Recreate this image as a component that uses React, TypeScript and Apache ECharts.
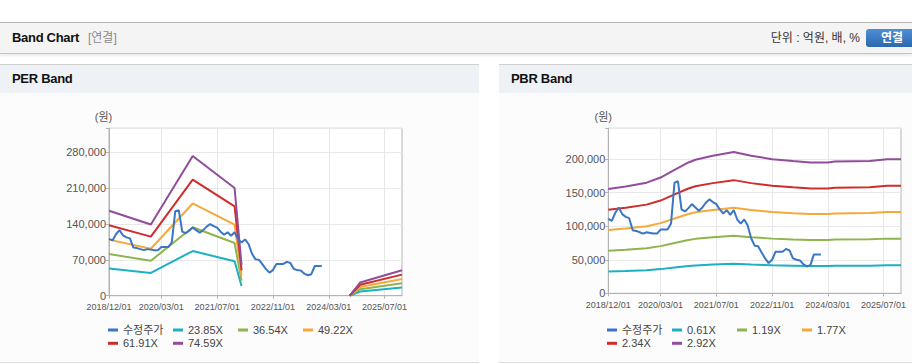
import React, { useEffect, useRef } from 'react';
import * as echarts from 'echarts';

const FONT = "'Liberation Sans', Arial, 'Noto Sans CJK KR', sans-serif";

// Monthly categories 2018/12/01 .. 2025/12/01
const months: string[] = (() => {
  const out: string[] = [];
  for (let i = 0; i < 85; i++) {
    const t = 2018 * 12 + 11 + i;
    const y = Math.floor(t / 12);
    const m = (t % 12) + 1;
    out.push(`${y}/${String(m).padStart(2, '0')}/01`);
  }
  return out;
})();

const xTickLabels = ['2018/12/01', '2020/03/01', '2021/07/01', '2022/11/01', '2024/03/01', '2025/07/01'];

// 수정주가 (monthly, from 2018/12)
const adjPrice = [
  111000, 108000, 120000, 128000, 118000, 114000, 112000, 94000, 93000, 91000,
  89000, 91000, 90000, 89000, 89000, 95000, 95000, 95000, 104000, 165000,
  167000, 125000, 122000, 127000, 133000, 128000, 123000, 128000, 135000, 140000,
  136000, 133000, 125000, 119000, 124000, 117000, 124000, 110000, 104000, 110000,
  101000, 82000, 71000, 70000, 61000, 52000, 45000, 50000, 62000, 62000,
  62000, 66000, 64000, 52000, 50000, 49000, 43000, 40000, 42000, 58000,
  58000, 58000,
];

// PER band: EPS points (null = gap)
const perEps: [string, number | null][] = [
  ['2018/12/01', 2225],
  ['2019/12/01', 1865],
  ['2020/12/01', 3660],
  ['2021/12/01', 2820],
  ['2022/02/01', 800],
  ['2023/06/01', null],
  ['2024/09/01', 0],
  ['2024/12/01', 345],
  ['2025/12/01', 665],
];
const perMultiples = [23.85, 36.54, 49.22, 61.91, 74.59];
const perBandNames = ['23.85X', '36.54X', '49.22X', '61.91X', '74.59X'];

// PBR band: BPS points
const pbrBps: [string, number | null][] = [
  ['2018/12/01', 53300],
  ['2019/05/01', 54500],
  ['2019/11/01', 56500],
  ['2020/03/01', 59100],
  ['2020/07/01', 63000],
  ['2020/11/01', 66800],
  ['2021/01/01', 68200],
  ['2021/06/01', 70200],
  ['2021/12/01', 72100],
  ['2022/05/01', 70200],
  ['2022/11/01', 68500],
  ['2023/05/01', 67500],
  ['2023/10/01', 66800],
  ['2024/03/01', 66800],
  ['2024/05/01', 67300],
  ['2025/03/01', 67600],
  ['2025/08/01', 68500],
  ['2025/12/01', 68500],
];
const pbrMultiples = [0.61, 1.19, 1.77, 2.34, 2.92];
const pbrBandNames = ['0.61X', '1.19X', '1.77X', '2.34X', '2.92X'];

const priceName = '수정주가';
const priceColor = '#3a76c4';
const bandColors = ['#1bb0c4', '#8fb44d', '#f4a93a', '#d02c2c', '#914c9b'];

const fmt = (v: number) => String(v).replace(/\B(?=(\d{3})+(?!\d))/g, ',');

function buildOption(
  base: [string, number | null][],
  multiples: number[],
  names: string[],
  yMax: number,
  yInterval: number,
  grid: { left: number; top: number; width: number; height: number },
  unitPos: [number, number],
) {
  const isTick = (_i: number, v: string) => xTickLabels.indexOf(v) >= 0;
  const legendCommon = {
    icon: 'rect',
    itemWidth: 10,
    itemHeight: 3,
    itemGap: 6,
    padding: 0,
    selectedMode: false,
    left: 108,
    textStyle: { fontSize: 11, color: '#444', width: 44, lineHeight: 13, fontFamily: FONT },
  };
  const bands = names.map((n, i) => ({
    type: 'line',
    name: n,
    data: base.map(([d, v]) => [d, v == null ? '-' : Math.round(v * multiples[i])]),
    symbol: 'none',
    showSymbol: false,
    connectNulls: false,
    lineStyle: { width: 2, color: bandColors[i] },
    itemStyle: { color: bandColors[i] },
    z: 2,
  }));
  return {
    animation: false,
    textStyle: { fontFamily: FONT },
    grid: { ...grid, show: true, borderColor: '#b4b4b4', borderWidth: 1, backgroundColor: '#ffffff' },
    graphic: [
      {
        type: 'text',
        x: unitPos[0],
        y: unitPos[1],
        style: { text: '(원)', fill: '#555', fontSize: 11, fontFamily: FONT, align: 'center', verticalAlign: 'middle' },
      },
    ],
    legend: [
      { ...legendCommon, top: 230.5, data: [priceName, names[0], names[1], names[2]] },
      { ...legendCommon, top: 243.8, data: [names[3], names[4]] },
    ],
    xAxis: {
      type: 'category',
      data: months,
      boundaryGap: false,
      axisLine: { show: true, lineStyle: { color: '#b4b4b4' } },
      axisTick: { show: true, length: 3, interval: isTick, lineStyle: { color: '#b4b4b4' } },
      axisLabel: { interval: isTick, fontSize: 9, color: '#555', margin: 7, fontFamily: FONT },
      splitLine: { show: true, interval: isTick, lineStyle: { color: '#e8e8e8' } },
    },
    yAxis: {
      type: 'value',
      min: 0,
      max: yMax,
      interval: yInterval,
      axisLine: { show: true, lineStyle: { color: '#b4b4b4' } },
      axisTick: { show: true, length: 3, lineStyle: { color: '#b4b4b4' } },
      axisLabel: {
        margin: 3,
        fontSize: 11,
        color: '#555',
        fontFamily: FONT,
        formatter: (v: number) => (v % yInterval === 0 ? fmt(v) : ''),
      },
      splitLine: { show: true, lineStyle: { color: '#e8e8e8' } },
    },
    series: [
      ...bands,
      {
        type: 'line',
        name: priceName,
        data: adjPrice,
        symbol: 'none',
        showSymbol: false,
        lineStyle: { width: 2, color: priceColor },
        itemStyle: { color: priceColor },
        z: 3,
      },
    ],
  };
}

function Chart({ option, style }: { option: any; style: React.CSSProperties }) {
  const ref = useRef<HTMLDivElement>(null);
  useEffect(() => {
    if (!ref.current) return;
    const chart = echarts.init(ref.current, undefined, { renderer: 'svg' });
    chart.setOption(option);
    return () => chart.dispose();
  }, [option]);
  return <div ref={ref} style={style} />;
}

const perOption = buildOption(perEps, perMultiples, perBandNames, 327000, 70000,
  { left: 109, top: 35.3, width: 293, height: 167.4 }, [103.5, 24.3]);
const pbrOption = buildOption(pbrBps, pbrMultiples, pbrBandNames, 246000, 50000,
  { left: 109.3, top: 35.3, width: 292.7, height: 165 }, [104.3, 24.3]);

function Panel({ left, width, title }: { left: number; width: number; title: string }) {
  return (
    <div style={{ position: 'absolute', left, top: 64, width, height: 299, borderTop: '1px solid #cfcfcf', borderBottom: '1px solid #dcdcdc', background: '#fcfcfc', boxSizing: 'border-box' }}>
      <div style={{ position: 'absolute', left: 0, top: 0, width: '100%', height: 28, background: '#eef2f7' }}>
        <span style={{ position: 'absolute', left: 12, top: 6, lineHeight: '16px', fontSize: 13, fontWeight: 'bold', color: '#111', letterSpacing: '-0.3px' }}>{title}</span>
      </div>
    </div>
  );
}

export default function App() {
  return (
    <div style={{ position: 'absolute', left: 0, top: 0, width: 912, height: 364, background: '#fff', overflow: 'hidden', fontFamily: FONT }}>
      <div style={{ position: 'absolute', left: 0, top: 22, width: 912, height: 30, borderTop: '1px solid #b8b8b8', borderBottom: '1px solid #c4c4c4', background: '#f4f4f4', boxShadow: '0 2px 2px rgba(0,0,0,0.08)' }}>
        <span style={{ position: 'absolute', left: 12, top: 7, lineHeight: '16px', fontSize: 13, fontWeight: 'bold', color: '#111', letterSpacing: '-0.3px' }}>Band Chart</span>
        <span style={{ position: 'absolute', left: 88, top: 7, lineHeight: '16px', fontSize: 12, color: '#8a8a8a' }}>[연결]</span>
        <span style={{ position: 'absolute', right: 52, top: 6.5, lineHeight: '16px', fontSize: 12, color: '#333' }}>단위 : 억원, 배, %</span>
        <div style={{ position: 'absolute', left: 866, top: 6, width: 52, height: 18, borderRadius: 3, background: 'linear-gradient(#4d8fd6, #2b67ad)', color: '#fff', fontSize: 12, fontWeight: 'bold', lineHeight: '18px', textAlign: 'center' }}>연결</div>
      </div>
      <Panel left={0} width={479} title="PER Band" />
      <Panel left={499} width={413} title="PBR Band" />
      <Chart option={perOption} style={{ position: 'absolute', left: 0, top: 93, width: 479, height: 268 }} />
      <Chart option={pbrOption} style={{ position: 'absolute', left: 499, top: 93, width: 413, height: 268 }} />
    </div>
  );
}
